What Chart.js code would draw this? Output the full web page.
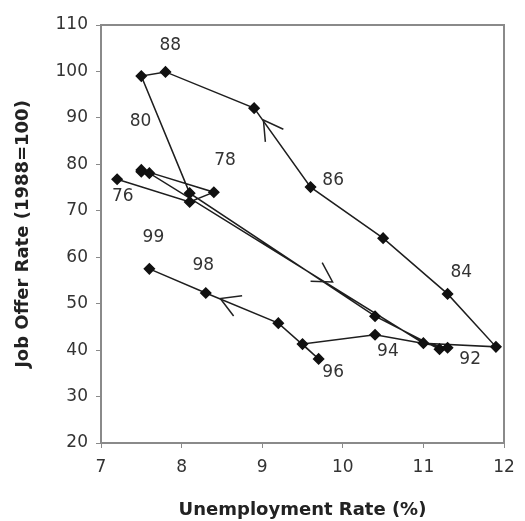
<!DOCTYPE html>
<html>
<head>
<meta charset="utf-8">
<script src="https://cdn.jsdelivr.net/npm/chart.js@4.4.1/dist/chart.umd.min.js"></script>
<style>
  html, body { margin: 0; padding: 0; background: #fff; }
  #wrap { width: 525px; height: 521px; }
</style>
</head>
<body>
<div id="wrap"><canvas id="c" width="525" height="521"></canvas></div>
<script>
// ---- data ----
const years = [1976,1977,1978,1979,1980,1981,1982,1983,1984,1985,1986,1987,1988,1989,1990,1991,1992,1993,1994,1995,1996,1997,1998,1999];
const unemployment = [7.2, 8.1, 8.4, 7.5, 7.5, 7.6, 11.0, 11.9, 11.3, 10.5, 9.6, 8.9, 7.8, 7.5, 8.1, 10.4, 11.2, 11.3, 10.4, 9.5, 9.7, 9.2, 8.3, 7.6];
const jobOfferRate = [76.8, 71.9, 74.0, 78.8, 78.4, 78.1, 41.5, 40.7, 52.1, 64.1, 75.1, 92.1, 99.9, 99.0, 73.8, 47.3, 40.2, 40.5, 43.3, 41.3, 38.1, 45.8, 52.3, 57.5];

// year labels written on the chart (anchor in data units)
const labelText = ['88', '80', '78', '76', '86', '99', '98', '84', '94', '92', '96'];
const labelX    = [7.86, 7.49, 8.54, 7.27, 9.88, 7.65, 8.27, 11.47, 10.56, 11.58, 9.88];
const labelY    = [105.6, 89.2, 80.9, 73.0, 76.6, 64.3, 58.3, 56.8, 39.6, 37.9, 35.1];

// direction arrows: tip and the point they come from (data units)
const arrowTipX  = [9.015, 9.873, 8.48];
const arrowTipY  = [89.55, 54.67, 51.1];
const arrowFromX = [9.6, 8.1, 9.21];
const arrowFromY = [75.1, 73.8, 45.8];

const xTicksMin = 7, xTicksMax = 12, yTicksMin = 20, yTicksMax = 110;

const points = unemployment.map((u, i) => ({ x: u, y: jobOfferRate[i] }));

const frame = {
  id: 'frame',
  afterDraw(chart) {
    const { ctx, chartArea: a } = chart;
    ctx.save();
    ctx.strokeStyle = '#8a8a8a';
    ctx.lineWidth = 2;
    ctx.strokeRect(a.left, a.top, a.right - a.left, a.bottom - a.top);
    ctx.restore();
  }
};

const annotations = {
  id: 'annotations',
  afterDatasetsDraw(chart) {
    const { ctx, scales: { x, y } } = chart;
    ctx.save();
    ctx.font = '17px "DejaVu Sans"';
    ctx.fillStyle = '#333';
    ctx.textAlign = 'center';
    ctx.textBaseline = 'middle';
    labelText.forEach((t, i) => {
      ctx.fillText(t, x.getPixelForValue(labelX[i]), y.getPixelForValue(labelY[i]));
    });
    ctx.strokeStyle = '#222';
    ctx.lineWidth = 1.5;
    arrowTipX.forEach((tx, i) => {
      const px = x.getPixelForValue(tx), py = y.getPixelForValue(arrowTipY[i]);
      const fx = x.getPixelForValue(arrowFromX[i]), fy = y.getPixelForValue(arrowFromY[i]);
      const ang = Math.atan2(fy - py, fx - px);
      const len = 22, spread = Math.PI / 6;
      ctx.beginPath();
      ctx.moveTo(px + len * Math.cos(ang + spread), py + len * Math.sin(ang + spread));
      ctx.lineTo(px, py);
      ctx.lineTo(px + len * Math.cos(ang - spread), py + len * Math.sin(ang - spread));
      ctx.stroke();
    });
    ctx.restore();
  }
};

new Chart(document.getElementById('c'), {
  type: 'scatter',
  data: {
    datasets: [{
      data: points,
      showLine: true,
      borderColor: '#1e1e1e',
      borderWidth: 1.5,
      pointStyle: 'rectRot',
      pointRadius: 5,
      pointBackgroundColor: '#111',
      pointBorderColor: '#111',
      tension: 0
    }]
  },
  options: {
    responsive: false,
    animation: false,
    layout: { padding: { top: 25, right: 21, left: 0, bottom: 0 } },
    plugins: { legend: { display: false }, tooltip: { enabled: false } },
    scales: {
      x: {
        type: 'linear',
        min: xTicksMin, max: xTicksMax,
        ticks: { stepSize: 1, color: '#333', font: { family: 'DejaVu Sans', size: 17 }, padding: 9, maxRotation: 0 },
        grid: { drawOnChartArea: false, drawTicks: true, tickLength: 5, color: '#8a8a8a' },
        border: { display: true, color: '#8a8a8a', width: 2 },
        title: { display: true, text: 'Unemployment Rate (%)', color: '#222', font: { family: 'DejaVu Sans', size: 18, weight: 'bold' }, padding: { top: 0, bottom: 0 } },
        afterFit(s) { s.height = 78; }
      },
      y: {
        type: 'linear',
        min: yTicksMin, max: yTicksMax,
        ticks: { stepSize: 10, color: '#333', font: { family: 'DejaVu Sans', size: 17 }, padding: 8 },
        grid: { drawOnChartArea: false, drawTicks: true, tickLength: 5, color: '#8a8a8a' },
        border: { display: true, color: '#8a8a8a', width: 2 },
        title: { display: true, text: 'Job Offer Rate (1988=100)', color: '#222', font: { family: 'DejaVu Sans', size: 18, weight: 'bold' }, padding: { top: 13, bottom: 0 } },
        afterFit(s) { s.width = 101; }
      }
    }
  },
  plugins: [frame, annotations]
});
</script>
</body>
</html>
